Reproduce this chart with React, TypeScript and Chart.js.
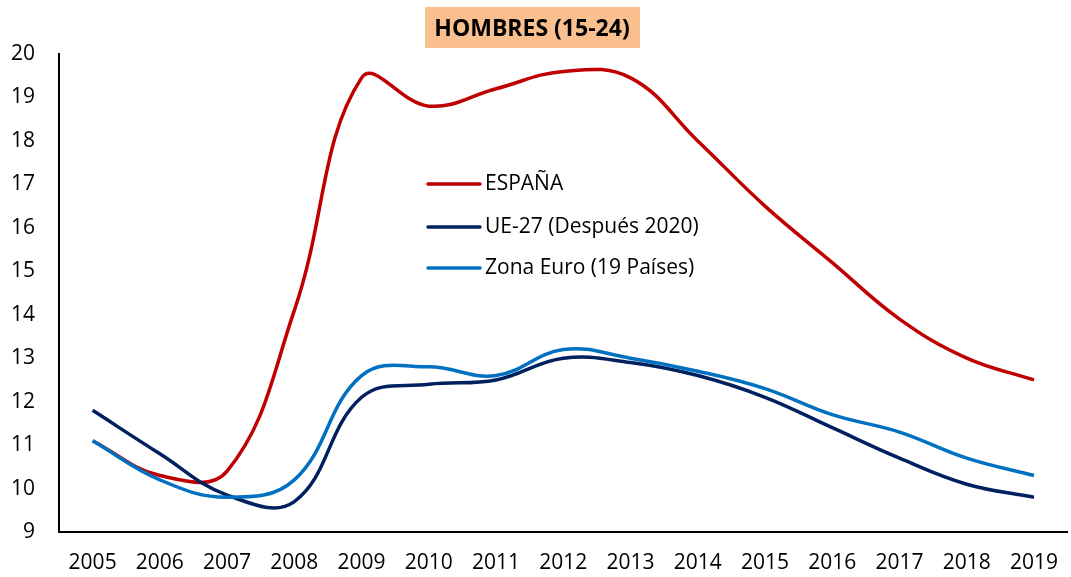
import React, { useEffect, useRef } from "react";
import { Chart, registerables } from "chart.js";

Chart.register(...registerables);

const years = ["2005","2006","2007","2008","2009","2010","2011","2012","2013","2014","2015","2016","2017","2018","2019"];
const espana = [11.1, 10.3, 10.4, 14.1, 19.45, 18.8, 19.2, 19.6, 19.45, 18.0, 16.5, 15.2, 13.9, 13.0, 12.5];
const ue27 = [11.8, 10.8, 9.85, 9.7, 12.1, 12.4, 12.5, 13.0, 12.9, 12.6, 12.1, 11.4, 10.7, 10.1, 9.8];
const zonaEuro = [11.1, 10.2, 9.8, 10.2, 12.6, 12.8, 12.6, 13.2, 13.0, 12.7, 12.3, 11.7, 11.3, 10.7, 10.3];
const seriesLabels = ["ESPAÑA", "UE-27 (Después 2020)", "Zona Euro (19 Países)"];
const seriesColors = ["#C00000", "#002060", "#0070C0"];
const titleText = "HOMBRES (15-24)";

const FONT = "'Open Sans', sans-serif";

const overlayPlugin = {
  id: "overlay",
  afterDraw(chart: any) {
    const ctx = chart.ctx;
    ctx.save();
    // title box
    ctx.fillStyle = "#F9BF8F";
    ctx.fillRect(425, 7, 215, 41);
    ctx.fillStyle = "#000";
    ctx.font = "bold 23px " + FONT;
    ctx.textAlign = "center";
    ctx.textBaseline = "middle";
    ctx.fillText(titleText, 532, 29);
    // legend
    const rows = [184, 227, 268];
    ctx.font = "21px " + FONT;
    ctx.textAlign = "left";
    seriesLabels.forEach((lab, i) => {
      ctx.strokeStyle = seriesColors[i];
      ctx.lineWidth = 3.5;
      ctx.lineCap = "round";
      ctx.beginPath();
      ctx.moveTo(428, rows[i]);
      ctx.lineTo(480, rows[i]);
      ctx.stroke();
      ctx.fillStyle = "#000";
      ctx.fillText(lab, 485, rows[i]);
    });
    ctx.restore();
  },
};

export default function App() {
  const ref = useRef<HTMLCanvasElement>(null);
  useEffect(() => {
    document.body.style.margin = "0";
    const datasets = [espana, ue27, zonaEuro].map((d, i) => ({
      label: seriesLabels[i],
      data: d,
      borderColor: seriesColors[i],
      backgroundColor: seriesColors[i],
      borderWidth: 3.5,
      pointRadius: 0,
      tension: 0.4,
      fill: false,
    }));
    const chart = new Chart(ref.current!, {
      type: "line",
      data: { labels: years, datasets: [...datasets].reverse() as any },
      options: {
        animation: false,
        responsive: false,
        layout: { padding: { top: 54, left: 0, right: 0, bottom: 0 } },
        plugins: { legend: { display: false }, title: { display: false }, tooltip: { enabled: false } },
        scales: {
          x: {
            offset: true,
            grid: { display: false, drawTicks: false },
            border: { display: true, color: "#000", width: 2 },
            ticks: { color: "#000", font: { family: FONT, size: 21 }, padding: 18, maxRotation: 0 },
            afterFit: (s: any) => { s.height = 45; },
          },
          y: {
            min: 9,
            max: 20,
            grid: { display: false, drawTicks: false },
            border: { display: true, color: "#000", width: 2 },
            ticks: { stepSize: 1, color: "#000", font: { family: FONT, size: 21 }, padding: 24 },
            afterFit: (s: any) => { s.width = 59; },
          },
        },
      },
      plugins: [overlayPlugin],
    });
    return () => chart.destroy();
  }, []);
  return (
    <div style={{ position: "fixed", left: 0, top: 0, width: 1071, height: 577, overflow: "hidden", background: "#fff" }}>
      <canvas ref={ref} width={1076} height={577} style={{ width: 1076, height: 577, display: "block" }} />
    </div>
  );
}
